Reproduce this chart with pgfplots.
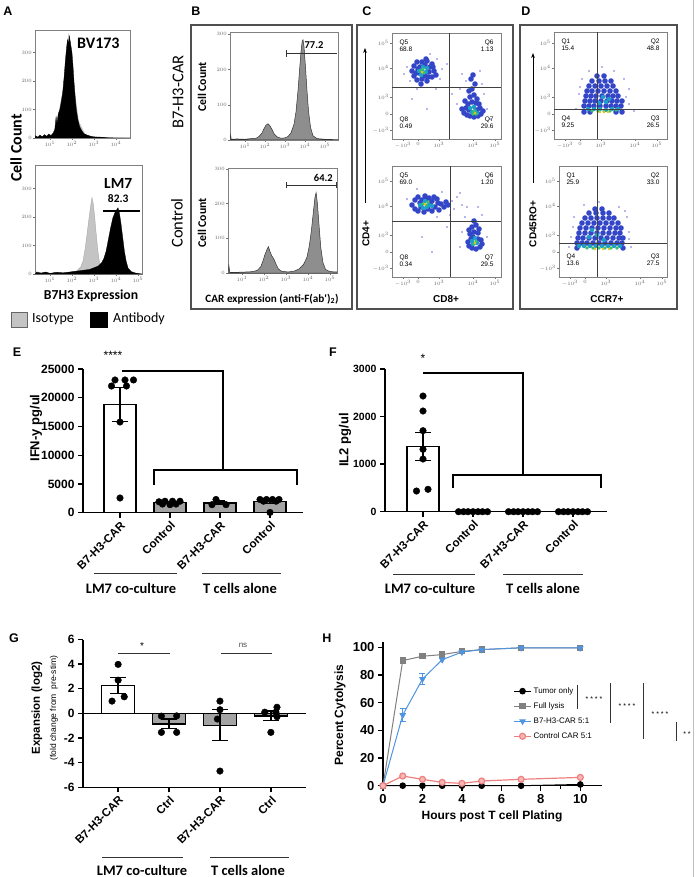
\documentclass[border=0pt]{standalone}
\usepackage{pgfplots}
\pgfplotsset{compat=1.18}
\usepackage{fontspec}
\setmainfont{Liberation Sans}
\newfontfamily\calib{Carlito}
\usetikzlibrary{arrows.meta}
\newcommand\fs[1]{\fontsize{#1}{#1}\selectfont}
\definecolor{isogray}{HTML}{C4C4C4}
\definecolor{histgray}{HTML}{8E8E8E}
\definecolor{barg}{HTML}{A3A3A3}
\definecolor{hblue}{HTML}{4F94E0}
\definecolor{hpink}{HTML}{EE7F7F}
\definecolor{hpinkf}{HTML}{F7B7B7}
\definecolor{hgray}{HTML}{808080}
\definecolor{dlight}{HTML}{8A8AE0}
\definecolor{dblue}{HTML}{3346C8}
\definecolor{dcyan}{HTML}{1E9FC8}
\definecolor{dgreen}{HTML}{3CBF6E}
\definecolor{dyellow}{HTML}{E3C41E}
\definecolor{framec}{HTML}{505050}

\pgfplotsset{
  flow/.style={scale only axis, anchor=south west, clip mode=individual,
    axis line style={black!50, line width=0.5pt}, tick style={black!55, line width=0.4pt},
    major tick length=2pt, tick align=outside, xtick pos=left, ytick pos=left,
    ticklabel style={font=\fs{3}, text=black!60, inner sep=1pt}},
  dots/.style={flow, xmin=0, ymin=0,
    ytick={9,25,42,71,96}, yticklabels={$-10^3$,$0$,$10^3$,$10^4$,$10^5$},
    xtick={11,26,47,81,103}, xticklabels={$-10^3$,$0$,$10^3$,$10^4$,$10^5$}},
  gp/.style={scale only axis, anchor=south west, clip=false,
    axis x line*=bottom, axis y line*=left, axis line style={line width=1.3pt},
    tick style={line width=1.3pt, black}, major tick length=5pt, minor tick length=3pt,
    tick align=outside,
    /pgf/number format/assume math mode=true, /pgf/number format/1000 sep={},
    scaled y ticks=false,
    yticklabel style={font=\bfseries\fs{12}}},
  rot/.style={xticklabel style={rotate=45, anchor=north east, font=\bfseries\fs{11.5}, inner sep=2pt}},
  bar/.style={ybar, bar shift=0pt, bar width=0.64, draw=black, line width=1.3pt,
    error bars/y dir=both, error bars/y explicit,
    error bars/error bar style={line width=1.3pt, black},
    error bars/error mark options={rotate=90, mark size=8pt, line width=1.3pt, black}},
  pts/.style={only marks, mark=*, mark size=3.3pt, black},
  sp/.style={only marks, mark=*, mark size=0.6pt, dlight},
  bl/.style={only marks, mark=*, mark size=2.8pt, dblue, mark options={draw opacity=0}},
  cy/.style={only marks, mark=*, mark size=2.2pt, dcyan, mark options={draw opacity=0}},
  gr/.style={only marks, mark=*, mark size=1.8pt, dgreen, mark options={draw opacity=0}},
  ye/.style={only marks, mark=*, mark size=1.4pt, dyellow, mark options={draw opacity=0}},
  ql/.style={black!75, line width=0.8pt},
}

\begin{document}
\begin{tikzpicture}
\useasboundingbox (0pt,0pt) rectangle (696pt,-877pt);

% ---------------- A ----------------
\begin{axis}[flow, at={(35pt,-138pt)}, width=95pt, height=108pt,
  xmin=0.32, xmax=4.64, ymin=0, ymax=379, xtick={1,2,3,4},
  xticklabels={$10^1$,$10^2$,$10^3$,$10^4$}, ytick={0,100,200,300}]
\addplot[fill=isogray, draw=isogray, line width=0.3pt] coordinates {
(0.32,0)(0.6,4)(1.0,6)(1.2,20)(1.4,90)(1.6,170)(1.75,300)(1.85,365)(1.95,320)(2.1,180)(2.3,60)(2.6,12)(3.0,3)(4.6,0)} \closedcycle;
\addplot[fill=black, draw=black, line width=0.3pt] coordinates {
(0.32,0)(0.35,8)(0.45,3)(0.55,10)(0.65,4)(0.75,12)(0.85,6)(0.95,14)(1.05,8)(1.15,18)(1.22,30)(1.28,75)(1.32,50)(1.38,85)(1.45,100)(1.52,130)(1.58,160)(1.64,210)(1.70,270)(1.76,320)(1.80,345)(1.84,330)(1.88,358)(1.92,340)(1.96,320)(2.0,300)(2.05,250)(2.1,190)(2.15,140)(2.2,100)(2.27,65)(2.35,40)(2.45,25)(2.55,15)(2.7,10)(2.85,6)(3.0,4)(3.3,3)(3.6,1)(4.0,0)(4.64,0)} \closedcycle;
\node[font=\calib\bfseries\fs{16}] at (axis cs:3.2,333) {BV173};
\end{axis}

\begin{axis}[flow, at={(35pt,-274pt)}, width=107pt, height=109pt,
  xmin=0.32, xmax=5.18, ymin=0, ymax=382, xtick={1,2,3,4,5},
  xticklabels={$10^1$,$10^2$,$10^3$,$10^4$,$10^5$}, ytick={0,100,200,300}]
\addplot[fill=isogray, draw=isogray!80!black, line width=0.3pt] coordinates {
(0.32,0)(0.4,8)(0.6,4)(0.8,6)(1.0,3)(1.3,5)(1.6,4)(1.9,6)(2.2,10)(2.4,25)(2.5,45)(2.6,90)(2.7,150)(2.78,200)(2.85,240)(2.91,268)(2.97,245)(3.03,200)(3.1,140)(3.17,85)(3.25,40)(3.35,15)(3.5,5)(3.8,2)(4.2,0)(5.18,0)} \closedcycle;
\addplot[fill=black, draw=black, line width=0.3pt] coordinates {
(0.32,0)(0.4,6)(0.6,3)(0.8,7)(1.0,2)(1.3,6)(1.6,4)(2.0,8)(2.4,12)(2.8,16)(3.0,22)(3.2,28)(3.35,40)(3.45,55)(3.55,80)(3.65,120)(3.75,160)(3.85,195)(3.95,215)(4.03,225)(4.09,232)(4.15,215)(4.22,180)(4.3,130)(4.38,80)(4.46,45)(4.55,20)(4.7,8)(4.9,3)(5.18,0)} \closedcycle;
\addplot[black, line width=1.2pt] coordinates {(3.4,221)(5.1,221)};
\node[font=\calib\bfseries\fs{15.5}] at (axis cs:4.1,319) {LM7};
\node[font=\calib\bfseries\fs{11.5}] at (axis cs:4.1,263) {82.3};
\end{axis}

% ---------------- B ----------------
\begin{axis}[flow, at={(230pt,-140pt)}, width=108pt, height=108pt,
  xmin=0.25, xmax=5.65, ymin=0, ymax=306, xtick={1,2,3,4,5},
  xticklabels={$10^1$,$10^2$,$10^3$,$10^4$,$10^5$}, ytick={0,100,200,300}]
\addplot[fill=histgray, draw=black!80, line width=0.5pt] coordinates {
(0.25,0)(0.28,15)(0.31,2)(0.6,3)(1.0,2)(1.3,4)(1.55,5)(1.7,10)(1.85,20)(1.95,32)(2.05,42)(2.15,46)(2.25,40)(2.35,30)(2.45,18)(2.6,9)(2.8,5)(3.0,6)(3.15,10)(3.3,20)(3.45,45)(3.55,80)(3.65,140)(3.73,200)(3.8,250)(3.86,280)(3.9,284)(3.95,265)(4.02,210)(4.1,140)(4.18,80)(4.28,35)(4.4,12)(4.6,4)(5.0,2)(5.65,1)} \closedcycle;
\addplot[black!80, line width=0.6pt] coordinates {(3.05,246)(5.6,246)};
\addplot[black!80, line width=0.6pt] coordinates {(3.05,236)(3.05,256)};
\node[font=\calib\bfseries\fs{10.5}] at (axis cs:4.45,270) {77.2};
\end{axis}

\begin{axis}[flow, at={(228pt,-273pt)}, width=109pt, height=105pt,
  xmin=0.36, xmax=5.32, ymin=0, ymax=303, xtick={1,2,3,4,5},
  xticklabels={$10^1$,$10^2$,$10^3$,$10^4$,$10^5$}, ytick={0,100,200,300}]
\addplot[fill=histgray, draw=black!80, line width=0.5pt] coordinates {
(0.36,0)(0.4,22)(0.44,2)(0.8,2)(1.2,3)(1.5,4)(1.7,8)(1.85,18)(1.95,35)(2.05,55)(2.15,70)(2.2,76)(2.27,62)(2.35,50)(2.45,40)(2.55,25)(2.65,12)(2.8,5)(3.1,3)(3.4,6)(3.6,12)(3.8,25)(3.95,45)(4.05,75)(4.15,120)(4.25,180)(4.32,220)(4.37,232)(4.43,200)(4.5,140)(4.58,75)(4.68,30)(4.8,10)(5.0,4)(5.32,3)} \closedcycle;
\addplot[black!80, line width=0.6pt] coordinates {(3.0,254)(5.3,254)};
\addplot[black!80, line width=0.6pt] coordinates {(3.0,244)(3.0,264)};
\addplot[black!80, line width=0.6pt] coordinates {(5.3,244)(5.3,264)};
\node[font=\calib\bfseries\fs{10.5}] at (axis cs:4.7,275) {64.2};
\end{axis}

% ---------------- C ----------------
\begin{axis}[dots, at={(392pt,-139pt)}, width=109pt, height=106pt, xmax=109, ymax=106]
\addplot[sp] coordinates {(15,72)(45,80)(48,60)(18,58)(38,85)(50,70)(12,65)(44,50)(25,50)(55,75)(68,50)(90,55)(74,58)(92,45)(65,35)(95,30)(70,65)(88,68)(60,45)(98,20)(20,40)(35,30)};
\addplot[bl] coordinates {(20,68)(22,63)(22,73)(25,59)(25,77)(27,66)(28,72)(30,60)(30,77)(33,63)(33,74)(35,58)(35,78)(37,67)(38,72)(40,62)(40,75)(42,68)(44,64)(26,70)(24,66)(36,62)(34,80)(29,55)(41,72)
(72,26)(75,24)(78,23)(82,22)(86,23)(89,25)(91,28)(70,30)(74,31)(77,29)(85,29)(88,31)(76,35)(80,37)(84,36)(78,42)(82,44)(80,50)(83,55)(79,60)(85,40)(73,38)(87,35)(81,64)(77,48)};
\addplot[cy] coordinates {(27,68)(29,64)(31,72)(34,67)(35,71)(30,69)(80,27)(83,28)(78,31)(82,32)(85,26)};
\addplot[gr] coordinates {(29,68)(32,66)(31,70)(81,25)(84,25)(82,28)};
\addplot[ye] coordinates {(30,67)(83,26)};
\addplot[ql] coordinates {(57,0)(57,106)};
\addplot[ql] coordinates {(0,52)(109,52)};
\node[font=\fs{6.5}, anchor=west, align=left] at (axis cs:4,93) {Q5\\68.8};
\node[font=\fs{6.5}, anchor=east, align=right] at (axis cs:105,93) {Q6\\1.13};
\node[font=\fs{6.5}, anchor=west, align=left] at (axis cs:4,16) {Q8\\0.49};
\node[font=\fs{6.5}, anchor=east, align=right] at (axis cs:105,16) {Q7\\29.6};
\end{axis}

\begin{axis}[dots, at={(392pt,-277pt)}, width=109pt, height=111pt, xmax=109, ymax=111]
\addplot[sp] coordinates {(60,76)(65,80)(70,72)(62,68)(15,78)(50,85)(58,62)(68,84)(75,70)(45,60)(73,60)(90,62)(86,70)(70,45)(95,40)(68,30)(30,40)(40,25)(55,50)(25,88)};
\addplot[bl] coordinates {(20,72)(23,68)(23,77)(26,66)(26,80)(29,70)(30,77)(32,65)(33,81)(36,68)(37,79)(40,66)(40,76)(43,70)(45,78)(47,67)(49,73)(52,70)(54,75)(56,72)(28,74)(38,73)(46,74)(34,78)(42,80)
(77,31)(80,29)(84,28)(88,30)(90,33)(76,35)(79,38)(86,38)(89,37)(78,43)(82,45)(86,44)(80,50)(84,52)(82,56)(81,40)(87,48)(77,47)};
\addplot[cy] coordinates {(28,72)(31,69)(33,76)(37,72)(40,71)(35,70)(81,33)(85,34)(83,39)(80,36)};
\addplot[gr] coordinates {(31,73)(34,72)(36,75)(82,33)(84,36)};
\addplot[ye] coordinates {(33,73)(83,34)};
\addplot[ql] coordinates {(58,0)(58,111)};
\addplot[ql] coordinates {(0,56)(109,56)};
\node[font=\fs{6.5}, anchor=west, align=left] at (axis cs:4,98) {Q5\\69.0};
\node[font=\fs{6.5}, anchor=east, align=right] at (axis cs:105,98) {Q6\\1.20};
\node[font=\fs{6.5}, anchor=west, align=left] at (axis cs:4,16) {Q8\\0.34};
\node[font=\fs{6.5}, anchor=east, align=right] at (axis cs:105,16) {Q7\\29.5};
\end{axis}

% ---------------- D ----------------
\begin{axis}[dots, at={(554pt,-139pt)}, width=113pt, height=107pt, xmax=113, ymax=107]
\addplot[sp] coordinates {(25,45)(75,50)(70,60)(28,60)(60,68)(35,68)(75,35)(22,30)(80,28)(48,72)(26,52)(72,42)};
\addplot[bl] coordinates {(30,27)(36,27)(62,27)(68,27)
(30,33)(35,33)(40,33)(46,33)(52,33)(57,33)(62,33)(67,33)
(31,38)(36,38)(41,38)(47,38)(53,38)(58,38)(63,38)(68,38)
(32,43)(37,43)(42,43)(48,43)(54,43)(59,43)(64,43)
(33,48)(38,48)(44,48)(50,48)(56,48)(62,48)
(35,53)(41,53)(47,53)(53,53)(59,53)
(38,58)(45,58)(51,58)(57,58)(43,63)(50,63)};
\addplot[cy] coordinates {(40,30)(46,30)(52,29)(58,30)(45,36)(52,37)(49,42)(55,40)(34,30)(64,30)};
\addplot[gr] coordinates {(38,28)(44,28)(50,28)(56,28)(62,29)};
\addplot[ye] coordinates {(46,27)(50,27)(54,27)};
\addplot[ql] coordinates {(43,0)(43,107)};
\addplot[ql] coordinates {(0,30)(113,30)};
\node[font=\fs{6.5}, anchor=west, align=left] at (axis cs:4,94) {Q1\\15.4};
\node[font=\fs{6.5}, anchor=east, align=right] at (axis cs:109,94) {Q2\\48.8};
\node[font=\fs{6.5}, anchor=west, align=left] at (axis cs:4,17) {Q4\\9.25};
\node[font=\fs{6.5}, anchor=east, align=right] at (axis cs:109,17) {Q3\\26.5};
\end{axis}

\begin{axis}[dots, at={(559pt,-277pt)}, width=108pt, height=111pt, xmax=108, ymax=111]
\addplot[sp] coordinates {(12,40)(70,45)(68,60)(15,60)(60,70)(25,72)(72,30)(10,30)(40,75)(66,66)(14,50)(70,38)};
\addplot[bl] coordinates {(18,29)(64,29)
(18,34)(23,34)(28,34)(34,34)(40,34)(46,34)(52,34)(58,34)(63,34)
(19,39)(24,39)(30,39)(36,39)(42,39)(48,39)(54,39)(60,39)(64,39)
(20,44)(26,44)(32,44)(38,44)(44,44)(50,44)(56,44)(61,44)
(21,49)(27,49)(33,49)(39,49)(45,49)(51,49)(57,49)(62,49)
(23,54)(29,54)(35,54)(41,54)(47,54)(53,54)(59,54)
(26,59)(32,59)(38,59)(44,59)(50,59)(55,59)
(30,64)(37,64)(44,64)(50,64)(36,68)(43,68)};
\addplot[cy] coordinates {(25,31)(31,31)(37,31)(43,31)(49,31)(55,31)(30,40)(38,42)(45,37)(33,47)(61,31)(20,31)};
\addplot[gr] coordinates {(28,29)(34,29)(40,29)(46,29)(52,29)(58,29)};
\addplot[ye] coordinates {(36,28)(44,28)(50,28)};
\addplot[ql] coordinates {(38,0)(38,111)};
\addplot[ql] coordinates {(0,34)(108,34)};
\node[font=\fs{6.5}, anchor=west, align=left] at (axis cs:4,98) {Q1\\25.9};
\node[font=\fs{6.5}, anchor=east, align=right] at (axis cs:104,98) {Q2\\33.0};
\node[font=\fs{6.5}, anchor=west, align=left] at (axis cs:4,17) {Q4\\13.6};
\node[font=\fs{6.5}, anchor=east, align=right] at (axis cs:104,17) {Q3\\27.5};
\end{axis}

% ---------------- E ----------------
\begin{axis}[gp, rot, at={(83pt,-512.7pt)}, width=220pt, height=143.7pt,
  xmin=-0.74, xmax=3.66, ymin=0, ymax=25000,
  ytick={0,5000,10000,15000,20000,25000}, xtick={0,1,2,3},
  xticklabels={B7-H3-CAR,Control,B7-H3-CAR,Control}]
\addplot[bar, fill=white] coordinates {(0,18814) +- (0,3000)};
\addplot[bar, fill=barg, error bars/error mark options={rotate=90, mark size=5pt, line width=1.3pt, black}] coordinates {(1,1757) +- (0,150)};
\addplot[bar, fill=barg, error bars/error mark options={rotate=90, mark size=5pt, line width=1.3pt, black}] coordinates {(2,1700) +- (0,320)};
\addplot[bar, fill=barg, error bars/error mark options={rotate=90, mark size=5pt, line width=1.3pt, black}] coordinates {(3,1893) +- (0,320)};
\addplot[pts] coordinates {(-0.1,23090)(0.1,23090)(0.27,23090)(-0.17,22040)(0.13,22040)(0,15780)(0,2560)
(0.78,1900)(0.9,2000)(1.05,2000)(1.2,2000)(0.85,1500)(1.0,1400)(1.12,1500)
(1.92,2300)(1.84,1400)(2.12,1400)
(2.8,2300)(2.93,2300)(3.05,2300)(3.18,2300)(2.87,2000)(3.12,2000)(3.0,50)};
\end{axis}

% ---------------- F ----------------
\begin{axis}[gp, rot, at={(385pt,-511.7pt)}, width=222pt, height=142.7pt,
  xmin=-0.76, xmax=3.68, ymin=0, ymax=3000,
  ytick={0,1000,2000,3000}, xtick={0,1,2,3},
  yticklabel style={font=\bfseries\fs{10.5}},
  xticklabels={B7-H3-CAR,Control,B7-H3-CAR,Control}]
\addplot[bar, fill=white] coordinates {(0,1370) +- (0,290)};
\addplot[pts] coordinates {(0,2432)(0,2117)(0,1703)(0,1312)(0,1108)(-0.13,435)(0.1,471)
(0.71,0)(0.81,0)(0.9,0)(1,0)(1.1,0)(1.19,0)(1.29,0)
(1.71,0)(1.81,0)(1.9,0)(2,0)(2.1,0)(2.19,0)(2.29,0)
(2.71,0)(2.81,0)(2.9,0)(3,0)(3.1,0)(3.19,0)(3.29,0)};
\end{axis}

% ---------------- G ----------------
\begin{axis}[gp, rot, at={(83pt,-787.3pt)}, width=223pt, height=147.8pt,
  xmin=-0.69, xmax=3.69, ymin=-6, ymax=6,
  ytick={-6,-4,-2,0,2,4,6}, xtick={0,1,2,3},
  xticklabels={B7-H3-CAR,Ctrl,B7-H3-CAR,Ctrl}]
\addplot[black, line width=1.3pt] coordinates {(-0.69,0)(3.69,0)};
\addplot[bar, fill=white] coordinates {(0,2.26) +- (0,0.65)};
\addplot[bar, fill=barg] coordinates {(1,-0.85) +- (0,0.4)};
\addplot[bar, fill=barg] coordinates {(2,-0.96) +- (0,1.25)};
\addplot[bar, fill=barg] coordinates {(3,-0.2) +- (0,0.4)};
\addplot[pts] coordinates {(0,2.7)(-0.12,1.0)(0.12,1.35)(0,3.98)
(0.85,-0.22)(1.15,-0.2)(0.85,-1.54)(1.15,-1.54)
(2,1.0)(2,0.3)(1.95,-0.46)(2,-4.68)
(2.88,0.1)(3.1,0.1)(3.12,0.5)(3.12,-0.27)(3.0,-1.54)};
\end{axis}

% ---------------- H ----------------
\begin{axis}[gp, at={(383pt,-785.7pt)}, width=219pt, height=144pt,
  xmin=0, xmax=11.1, ymin=0, ymax=104,
  xtick={0,2,4,6,8,10}, minor xtick={1,3,5,7,9}, ytick={0,20,40,60,80,100},
  xticklabel style={font=\bfseries\fs{13}},
  yticklabel style={font=\bfseries\fs{13}},
  legend cell align=left,
  legend style={at={(axis cs:6.6,72.5)}, anchor=north west, draw=none, fill=none,
    font=\fs{8}, row sep=3.8pt, inner sep=0pt}]
\addplot[black, line width=1pt, mark=*, mark size=2.8pt] coordinates {(0,0)(1,0)(2,0)(3,0)(4,0)(5,0)(7,0)(10,0.9)};
\addlegendentry{Tumor only}
\addplot[hgray, line width=1pt, mark=square*, mark size=2.6pt] coordinates {(0,0)(1,90.4)(2,93.5)(3,94.7)(4,97)(5,98.3)(7,99.6)(10,99.6)};
\addlegendentry{Full lysis}
\addplot[hblue, line width=1pt, mark=triangle*, mark size=3pt, mark options={rotate=180}] coordinates {(0,0)(1,51)(2,77)(3,91)(4,96.5)(5,98.3)(7,99.6)(10,99.6)};
\addlegendentry{B7-H3-CAR 5:1}
\addplot[hpink, line width=1.2pt, mark=*, mark size=3pt, mark options={fill=hpinkf}] coordinates {(0,0)(1,7)(2,4.6)(3,2.4)(4,1.7)(5,3.4)(7,4.6)(10,6)};
\addlegendentry{Control CAR 5:1}
\addplot[draw=none, forget plot, hblue, error bars/y dir=both, error bars/y explicit,
  error bars/error bar style={line width=1pt, hblue},
  error bars/error mark options={rotate=90, mark size=3pt, line width=1pt, hblue}]
  coordinates {(1,51) +- (0,4.5) (2,77) +- (0,3.7)};
\end{axis}

% ---------------- annotations ----------------
\begin{scope}[x=1pt, y=-1pt]
\draw[black!25, line width=0.8pt] (693,0) -- (693,877);
% panel letters
\foreach \l/\px/\py in {A/8/11, B/196/11, C/367/11, D/526/11, E/17/352, F/333/352, G/14/638, H/327/638}
  \node[font=\bfseries\fs{12.5}] at (\px,\py) {\l};
% A
\node[rotate=90, font=\calib\bfseries\fs{16}] at (16,148) {Cell Count};
\node[font=\calib\bfseries\fs{13.7}] at (91,296) {B7H3 Expression};
\draw[black!60, fill=isogray] (11,312) rectangle (27,327);
\node[anchor=west, font=\calib\fs{14}, inner sep=0pt] at (32,319) {Isotype};
\draw[fill=black] (90,312) rectangle (107,327);
\node[anchor=west, font=\calib\fs{14}, inner sep=0pt] at (113,319) {Antibody};
% frames
\draw[framec, line width=1.3pt] (191,25) rectangle (352,309);
\draw[framec, line width=1.3pt] (357,25) rectangle (513,309);
\draw[framec, line width=1.3pt] (520,25) rectangle (677,309);
% B
\node[rotate=90, font=\calib\fs{16.5}] at (178,92) {B7-H3-CAR};
\node[rotate=90, font=\calib\fs{16.5}] at (177,223) {Control};
\node[rotate=90, font=\calib\bfseries\fs{11.8}] at (202,87) {Cell Count};
\node[rotate=90, font=\calib\bfseries\fs{11.8}] at (202,223) {Cell Count};
\node[font=\calib\bfseries\fs{11.2}] at (272,299) {CAR expression (anti-F(ab')\textsubscript{2})};
% C, D
\draw[black, line width=1pt, -{Stealth[length=5pt]}] (365,203) -- (365,48);
\node[rotate=90, font=\bfseries\fs{10}] at (366,234) {CD4+};
\node[font=\bfseries\fs{10}] at (446,299) {CD8+};
\draw[black, line width=1pt, -{Stealth[length=5pt]}] (533,183) -- (533,53);
\node[rotate=90, font=\bfseries\fs{10}] at (533,224) {CD45RO+};
\node[font=\bfseries\fs{10}] at (607,299) {CCR7+};
% E
\node[rotate=90, font=\bfseries\fs{13}] at (36,428) {IFN-y pg/ul};
\node[font=\fs{12}] at (113,355) {****};
\draw[line width=1.3pt] (122,371) -- (223,371) -- (223,470);
\draw[line width=1.3pt] (154,485) -- (154,470) -- (297,470) -- (297,485);
\draw[black!80, line width=1pt] (94,573) -- (177,573);
\draw[black!80, line width=1pt] (202,573) -- (281,573);
\node[font=\calib\bfseries\fs{14.5}] at (131,588) {LM7 co-culture};
\node[font=\calib\bfseries\fs{14.5}] at (240,588) {T cells alone};
% F
\node[rotate=90, font=\bfseries\fs{13}] at (345,440) {IL2 pg/ul};
\node[font=\fs{12}] at (423,358) {*};
\draw[line width=1.3pt] (423,373) -- (523,373) -- (523,475);
\draw[line width=1.3pt] (453,488) -- (453,475) -- (601,475) -- (601,488);
\draw[black!80, line width=1pt] (393,574) -- (475,574);
\draw[black!80, line width=1pt] (503,574) -- (583,574);
\node[font=\calib\bfseries\fs{14.5}] at (430,588) {LM7 co-culture};
\node[font=\calib\bfseries\fs{14.5}] at (543,588) {T cells alone};
% G
\node[rotate=90, font=\bfseries\fs{11.5}] at (37,708) {Expansion (log2)};
\node[rotate=90, font=\fs{8.5}] at (54,708) {(fold change from\ \ pre-stim)};
\node[font=\fs{10}] at (142,646) {*};
\draw[black!80, line width=0.8pt] (118,653) -- (170,653);
\node[font=\fs{8}, text=black!70] at (243,645) {ns};
\draw[black!80, line width=0.8pt] (221,653) -- (272,653);
\draw[black!80, line width=1pt] (102,857) -- (183,857);
\draw[black!80, line width=1pt] (210,857) -- (289,857);
\node[font=\calib\bfseries\fs{14.5}] at (142,870) {LM7 co-culture};
\node[font=\calib\bfseries\fs{14.5}] at (248,870) {T cells alone};
% H
\node[rotate=90, font=\bfseries\fs{12}] at (340,715) {Percent Cytolysis};
\node[font=\bfseries\fs{12}] at (492,816) {Hours post T cell Plating};
\draw[black!80, line width=0.7pt] (577,685) -- (577,709);
\draw[black!80, line width=0.7pt] (610,683) -- (610,723);
\draw[black!80, line width=0.7pt] (643,683) -- (643,739);
\draw[black!80, line width=0.7pt] (676,722) -- (676,741);
\node[font=\fs{7}] at (594,699) {* * * *};
\node[font=\fs{7}] at (627,706) {* * * *};
\node[font=\fs{7}] at (660,714) {* * * *};
\node[font=\fs{7}] at (687,734) {* *};
\end{scope}
\end{tikzpicture}
\end{document}
